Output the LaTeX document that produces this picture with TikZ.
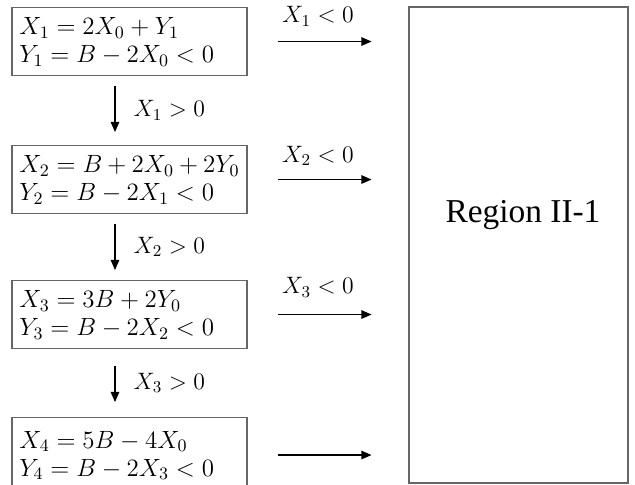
\documentclass[tikz,border=0pt]{standalone}
\usepackage{fix-cm}
\usepackage[no-math]{fontspec}
\setmainfont{Liberation Serif}
\usepackage{amsmath}
\usetikzlibrary{arrows.meta}

\tikzset{
  eqbox/.style={draw=black!60, line width=0.6pt, anchor=north, inner xsep=0.15cm, inner ysep=0.2cm,
    minimum width=4.7cm, minimum height=1.36cm, font=\fontsize{14.2}{16}\selectfont},
  flow/.style={line width=0.6pt, -{Triangle[length=0.2cm,width=0.17cm]}},
  cond/.style={font=\fontsize{13.5}{15.4}\selectfont, inner sep=0pt},
}
\newcommand{\eqlines}[2]{\begin{minipage}[t][0.96cm][t]{4.4cm}$#1$\\$#2$\end{minipage}}

\begin{document}
\begin{tikzpicture}
\useasboundingbox (0,0) rectangle (12.7,9.7);

% the four iterations
\node[eqbox] (b1) at (2.59,9.56) {\eqlines{X_1 = 2X_0 + Y_1}{Y_1 = B - 2X_0 < 0}};
\node[eqbox] (b2) at (2.59,6.80) {\eqlines{X_2 = B + 2X_0 + 2Y_0}{Y_2 = B - 2X_1 < 0}};
\node[eqbox] (b3) at (2.59,4.10) {\eqlines{X_3 = 3B + 2Y_0}{Y_3 = B - 2X_2 < 0}};
\node[eqbox, minimum height=1.5cm] (b4) at (2.59,1.36) {\eqlines{X_4 = 5B - 4X_0}{Y_4 = B - 2X_3 < 0}};

% target region
\node[draw=black!60, line width=0.6pt, minimum width=4.38cm, minimum height=9.52cm] (region) at (10.37,4.80) {};
\node[font=\fontsize{19}{22}\selectfont] (regionname) at (10.46,5.40) {Region II-1};

\draw[flow, shorten <=0.2cm, shorten >=0.26cm] ([xshift=-0.29cm]b1.south) -- ([xshift=-0.29cm]b2.north)
  node[cond, midway, right=0.36cm] {$X_1 > 0$};
\draw[flow, shorten <=0.2cm, shorten >=0.2cm] ([xshift=-0.29cm]b2.south) -- ([xshift=-0.29cm]b3.north)
  node[cond, midway, right=0.36cm] {$X_2 > 0$};
\draw[flow, shorten <=0.34cm, shorten >=0.3cm] ([xshift=-0.29cm]b3.south) -- ([xshift=-0.29cm]b4.north)
  node[cond, midway, right=0.36cm] {$X_3 > 0$};

\draw[flow, shorten <=0.6cm, shorten >=0.74cm] (b1.east) -- (b1.east -| region.west)
  node[cond, midway, yshift=0.5cm, xshift=-0.2cm] {$X_1 < 0$};
\draw[flow, shorten <=0.6cm, shorten >=0.74cm] (b2.east) -- (b2.east -| region.west)
  node[cond, midway, yshift=0.47cm, xshift=-0.2cm] {$X_2 < 0$};
\draw[flow, shorten <=0.6cm, shorten >=0.74cm] (b3.east) -- (b3.east -| region.west)
  node[cond, midway, yshift=0.54cm, xshift=-0.2cm] {$X_3 < 0$};
\draw[flow, shorten <=0.6cm, shorten >=0.74cm] (b4.east) -- (b4.east -| region.west);
\end{tikzpicture}
\end{document}
